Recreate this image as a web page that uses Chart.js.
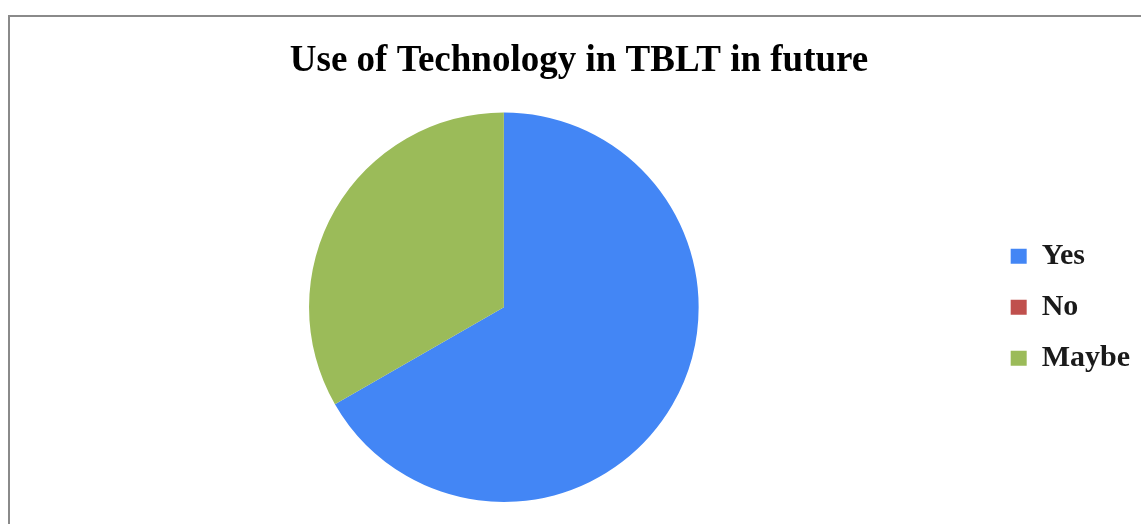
<!DOCTYPE html>
<html>
<head>
<meta charset="utf-8">
<title>Use of Technology in TBLT in future</title>
<script src="https://cdn.jsdelivr.net/npm/chart.js@4/dist/chart.umd.min.js"></script>
<style>
    html, body {
        margin: 0;
        padding: 0;
        width: 1141px;
        height: 524px;
        overflow: hidden;
        background: #ffffff;
    }
    /* рамка области диаграммы */
    .frame {
        position: absolute;
        left: 8px;
        top: 15px;
        width: 1200px;
        height: 600px;
        border: 2px solid #8a8a8a;
    }
    .chart-box {
        position: absolute;
        left: 0;
        top: 0;
        width: 1141px;
        height: 524px;
    }
</style>
</head>
<body>
<div class="frame"></div>
<div class="chart-box">
    <canvas id="techChart"></canvas>
</div>
<script>
// Данные диаграммы
const categories = ['Yes', 'No', 'Maybe'];
const shares = [66.7, 0, 33.3];
const sliceColors = ['#4386f5', '#c0504d', '#9bbb59'];

const chartTitle = 'Use of Technology in TBLT in future';
const serifFont = '"Liberation Serif", "Times New Roman", serif';

function initChart() {
    const ctx = document.getElementById('techChart').getContext('2d');

    new Chart(ctx, {
        type: 'pie',
        data: {
            labels: categories,
            datasets: [{
                data: shares,
                backgroundColor: sliceColors,
                borderWidth: 0
            }]
        },
        options: {
            responsive: true,
            maintainAspectRatio: false,
            animation: false,
            layout: {
                padding: { top: 10, bottom: 22, left: 18, right: 1 }
            },
            plugins: {
                title: {
                    display: true,
                    text: chartTitle,
                    color: '#000000',
                    font: { family: serifFont, size: 37, weight: 'bold' },
                    padding: { top: 29, bottom: 29 }
                },
                legend: {
                    position: 'right',
                    fullSize: false,
                    labels: {
                        color: '#1a1a1a',
                        boxWidth: 16,
                        boxHeight: 15,
                        padding: 21,
                        font: { family: serifFont, size: 30, weight: 'bold' }
                    }
                },
                tooltip: { enabled: false }
            }
        }
    });
}

document.addEventListener('DOMContentLoaded', initChart);
</script>
</body>
</html>
